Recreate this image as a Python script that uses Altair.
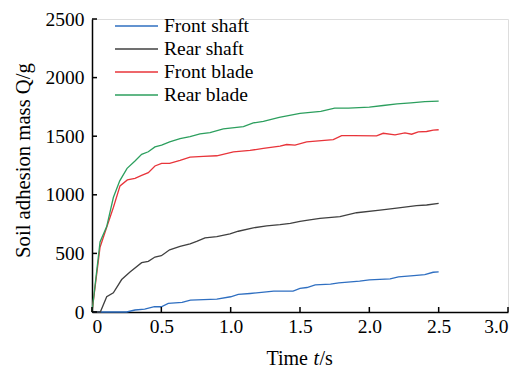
import altair as alt
import pandas as pd

# Time (s) and soil adhesion mass (g)
front_shaft_t = [0, 0.25, 0.31, 0.38, 0.45, 0.50, 0.55, 0.65, 0.71, 0.90, 1.0, 1.055, 1.14, 1.24, 1.31, 1.45, 1.50, 1.55, 1.61, 1.72, 1.78, 1.93, 2.0, 2.15, 2.21, 2.32, 2.40, 2.46, 2.5]
front_shaft_q = [0, 0, 17, 25, 45, 45, 73, 82, 102, 110, 130, 150, 158, 169, 178, 178, 201, 209, 231, 237, 248, 263, 274, 282, 299, 311, 319, 339, 342]

rear_shaft_t = [0, 0.06, 0.106, 0.154, 0.214, 0.274, 0.358, 0.406, 0.454, 0.50, 0.56, 0.635, 0.707, 0.755, 0.815, 0.90, 0.995, 1.055, 1.163, 1.26, 1.356, 1.43, 1.5, 1.57, 1.644, 1.788, 1.908, 2.077, 2.197, 2.34, 2.413, 2.5]
rear_shaft_q = [0, 0, 130, 164, 277, 342, 421, 432, 469, 480, 531, 559, 582, 602, 633, 644, 667, 689, 718, 735, 746, 757, 774, 786, 799, 814, 847, 870, 887, 907, 913, 926]

front_blade_t = [0, 0.058, 0.106, 0.154, 0.202, 0.255, 0.31, 0.358, 0.406, 0.454, 0.502, 0.56, 0.635, 0.707, 0.803, 0.90, 1.02, 1.14, 1.236, 1.356, 1.404, 1.464, 1.548, 1.74, 1.80, 1.884, 2.052, 2.10, 2.185, 2.257, 2.305, 2.353, 2.413, 2.461, 2.5]
front_blade_q = [0, 553, 723, 892, 1076, 1127, 1141, 1165, 1189, 1246, 1268, 1268, 1294, 1322, 1328, 1333, 1367, 1379, 1396, 1415, 1429, 1424, 1452, 1471, 1505, 1505, 1503, 1525, 1511, 1528, 1517, 1537, 1540, 1551, 1555]

rear_blade_t = [0, 0.058, 0.106, 0.154, 0.2, 0.253, 0.31, 0.358, 0.406, 0.454, 0.502, 0.56, 0.635, 0.707, 0.779, 0.851, 0.947, 1.092, 1.163, 1.236, 1.35, 1.5, 1.65, 1.75, 1.85, 2.0, 2.1, 2.2, 2.3, 2.4, 2.5]
rear_blade_q = [0, 597, 729, 977, 1119, 1226, 1288, 1345, 1367, 1409, 1424, 1452, 1480, 1497, 1519, 1531, 1562, 1582, 1613, 1627, 1660, 1695, 1712, 1740, 1740, 1748, 1762, 1775, 1785, 1795, 1800]

series_names = ["Front shaft", "Rear shaft", "Front blade", "Rear blade"]
series_colors = ["#2f6fc1", "#404040", "#e8343a", "#2c9f5e"]

x_ticks = [0, 0.5, 1.0, 1.5, 2.0, 2.5, 3.0]
y_ticks = [0, 500, 1000, 1500, 2000, 2500]

x_title_parts = ["Time", "t", "/s"]

rows = []
for name, ts, qs in zip(series_names,
                        [front_shaft_t, rear_shaft_t, front_blade_t, rear_blade_t],
                        [front_shaft_q, rear_shaft_q, front_blade_q, rear_blade_q]):
    for t, q in zip(ts, qs):
        rows.append({"series": name, "t": t, "q": q})
df = pd.DataFrame(rows)

FONT = "Liberation Serif"
FS = 19.5
TFS = 20
W, H = 416, 293

xscale = alt.Scale(domain=[0, 3.0], nice=False)
yscale = alt.Scale(domain=[0, 2500], nice=False)

x_axis = alt.Axis(values=x_ticks, labelExpr="datum.value == 0 ? '0' : format(datum.value, '.1f')",
                  ticks=False, grid=False, domainColor="black", domainWidth=1.5,
                  labelFont=FONT, labelFontSize=FS, labelColor="black", labelPadding=5,
                  title=None)
y_axis = alt.Axis(values=y_ticks, format="d", ticks=False, grid=False, domainColor="black", domainWidth=1.5,
                  labelFont=FONT, labelFontSize=FS, labelColor="black", labelPadding=8,
                  title="Soil adhesion mass Q/g", titleFont=FONT, titleFontSize=20.7,
                  titleFontWeight="normal", titleColor="black", titlePadding=12, titleY=141)

lines = alt.Chart(df).mark_line(strokeWidth=1.3).encode(
    x=alt.X("t:Q", scale=xscale, axis=x_axis),
    y=alt.Y("q:Q", scale=yscale, axis=y_axis),
    color=alt.Color("series:N", sort=series_names,
                    scale=alt.Scale(domain=series_names, range=series_colors),
                    legend=alt.Legend(title=None, orient="none", legendX=22, legendY=-4.4,
                                      symbolType="stroke", symbolSize=1849, symbolStrokeWidth=1.3,
                                      labelFont=FONT, labelFontSize=FS, labelColor="black",
                                      clipHeight=22.8, rowPadding=0, labelOffset=5)),
    detail="series:N",
)

xt = pd.DataFrame({"v": x_ticks})
yt = pd.DataFrame({"v": y_ticks})
xtick_layer = alt.Chart(xt).mark_rule(color="black", strokeWidth=1.5).encode(
    x=alt.X("v:Q", scale=xscale, axis=x_axis), y=alt.value(H), y2=alt.value(H - 5))
ytick_layer = alt.Chart(yt).mark_rule(color="black", strokeWidth=1.5).encode(
    y=alt.Y("v:Q", scale=yscale, axis=y_axis), x=alt.value(0), x2=alt.value(5))

title_df = pd.DataFrame({"part": x_title_parts, "i": [0, 1, 2]})
TY = H + 53
xtitle_normal1 = alt.Chart(title_df).transform_filter("datum.i == 0").mark_text(
    font=FONT, fontSize=TFS, color="black", align="right", baseline="alphabetic").encode(
    text="part:N", x=alt.value(W / 2 + 8), y=alt.value(TY))
xtitle_italic = alt.Chart(title_df).transform_filter("datum.i == 1").mark_text(
    font=FONT, fontSize=TFS, color="black", align="left", baseline="alphabetic", fontStyle="italic").encode(
    text="part:N", x=alt.value(W / 2 + 13.5), y=alt.value(TY))
xtitle_normal2 = alt.Chart(title_df).transform_filter("datum.i == 2").mark_text(
    font=FONT, fontSize=TFS, color="black", align="left", baseline="alphabetic").encode(
    text="part:N", x=alt.value(W / 2 + 19.5), y=alt.value(TY))

chart = alt.layer(lines, xtick_layer, ytick_layer, xtitle_normal1, xtitle_italic, xtitle_normal2).properties(
    width=W, height=H,
    autosize=alt.AutoSizeParams(type="none"),
    padding={"left": 92, "top": 19, "right": 14, "bottom": 57},
).configure_view(stroke=None).configure(background="white", font=FONT)

chart.save("out.html", embed_options={"renderer": "svg", "actions": False})
